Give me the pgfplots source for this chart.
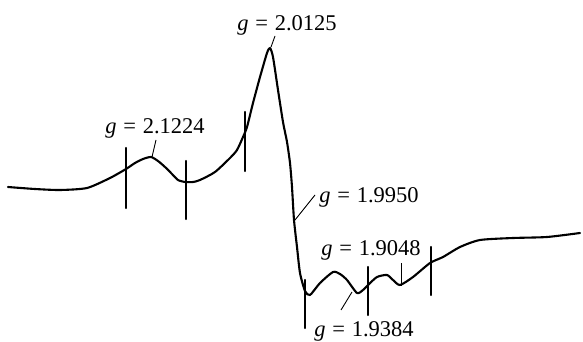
\documentclass[border=0pt]{standalone}
\usepackage{pgfplots}
\pgfplotsset{compat=1.18}
\usepackage{fontspec}
\setmainfont{Liberation Serif}

\newcommand{\gval}[1]{\textit{g}\hspace{0.3em}=\hspace{0.3em}#1}

\begin{document}
\begin{tikzpicture}
\begin{axis}[
  scale only axis, width=583pt, height=342pt,
  xmin=0, xmax=583, ymin=0, ymax=342, y dir=reverse,
  hide axis, clip=false,
  trace/.style={black, solid, mark=none, line width=2.1pt, line join=round, line cap=round},
]
% EPR derivative trace
\addplot[trace, smooth, tension=0.4] coordinates {
  (8,187) (35,189) (60,190) (87,188) (110,178) (126,169) (135,163) (143,159)
  (151,157) (158,161) (165,167) (172,174) (178,180) (185,182) (193,182) (200,180)
  (215,172) (230,158) (237,150) (243,137) (247,127) (253,103) (260,77) (267,53)
  (270,48) (273,57) (278,90) (283,122) (287,142) (290,163) (292,187) (294,220)
  (297,247) (300,273) (305,291) (310,295) (320,283) (333,272) (340,274) (347,280)
  (357,293) (363,290) (368,285) (377,277) (387,275) (393,280) (400,285) (413,277)
  (430,263) (443,257) (460,247) (480,240) (513,238) (547,237) (580,233)
};
% field markers
\addplot[trace] coordinates {(126,148) (126,208)};
\addplot[trace] coordinates {(186,161) (186,219)};
\addplot[trace] coordinates {(245,112) (245,171)};
\addplot[trace] coordinates {(305,280) (305,328)};
\addplot[trace] coordinates {(368,267) (368,315)};
\addplot[trace] coordinates {(431,247) (431,295)};
% leader lines
\draw[line width=0.9pt] (axis cs:156,140) -- (axis cs:152,157);
\draw[line width=0.9pt] (axis cs:275,36) -- (axis cs:271,47);
\draw[line width=0.9pt] (axis cs:315,195) -- (axis cs:295,220);
\draw[line width=0.9pt] (axis cs:401,263) -- (axis cs:401,286);
\draw[line width=0.9pt] (axis cs:341,310) -- (axis cs:352,292);
% labels
\begin{scope}[every node/.style={font=\fontsize{22.5}{26}\selectfont, inner sep=0pt}]
\node[anchor=base] at (axis cs:155,133) {\gval{2.1224}};
\node[anchor=base] at (axis cs:287,31) {\gval{2.0125}};
\node[anchor=base] at (axis cs:369,202) {\gval{1.9950}};
\node[anchor=base] at (axis cs:371,255) {\gval{1.9048}};
\node[anchor=base] at (axis cs:364,336) {\gval{1.9384}};
\end{scope}
\end{axis}
\pgfresetboundingbox
\path (current axis.south west) rectangle (current axis.north east);
\end{tikzpicture}
\end{document}
